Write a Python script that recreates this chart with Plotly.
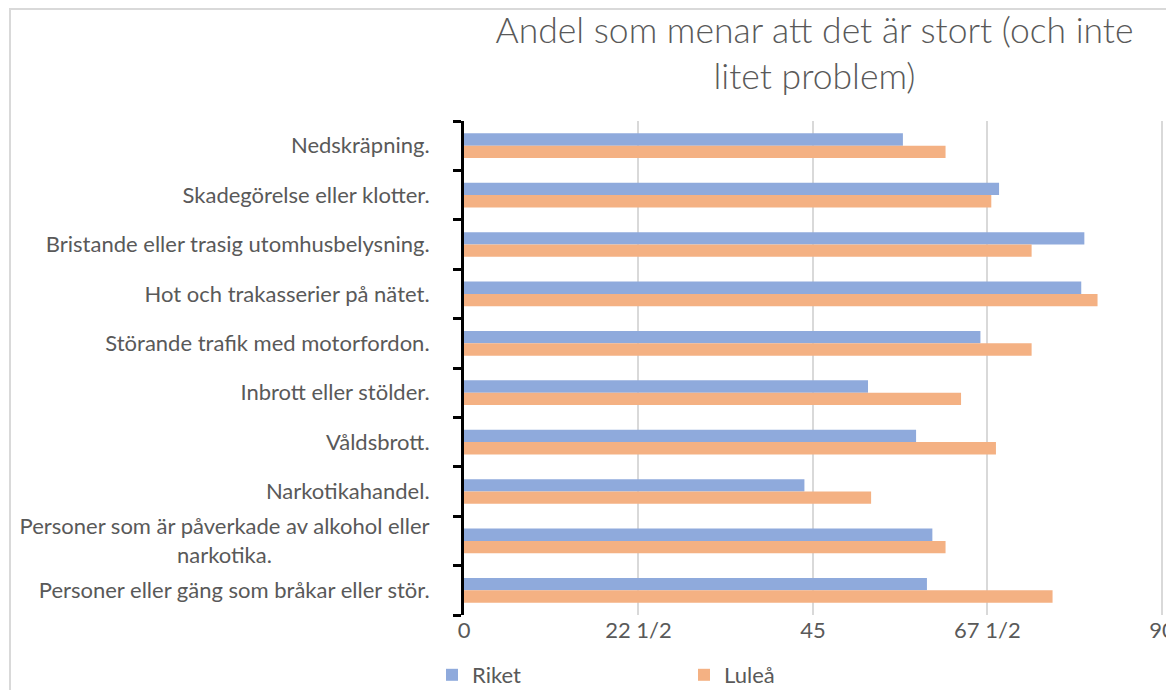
import plotly.graph_objects as go

categories = [
    "Nedskräpning.",
    "Skadegörelse eller klotter.",
    "Bristande eller trasig utomhusbelysning.",
    "Hot och trakasserier på nätet.",
    "Störande trafik med motorfordon.",
    "Inbrott eller stölder.",
    "Våldsbrott.",
    "Narkotikahandel.",
    "Personer som är påverkade av alkohol eller narkotika.",
    "Personer eller gäng som bråkar eller stör.",
]
riket = [56.6, 69.0, 80.0, 79.6, 66.6, 52.1, 58.3, 43.9, 60.4, 59.7]
lulea = [62.1, 68.0, 73.2, 81.7, 73.2, 64.1, 68.6, 52.5, 62.1, 75.9]
x_tickvals = [0, 22.5, 45, 67.5, 90]
x_ticktext = ["0", "22 1/2", "45", "67 1/2", "90"]

NB = "\u00a0"
display = list(categories)
display[8] = "Personer som är påverkade av alkohol eller<br>narkotika." + NB * 28

FONT = "Lato"
GREY = "#595959"

# the page body adds an 8px margin, so the figure is sized 8px smaller
W, H = 1166, 682
L, T = 456, 113
PW = 701
PH = 494
R = W - L - PW
B = H - T - PH

fig = go.Figure()
fig.add_trace(go.Bar(y=categories, x=riket, orientation="h", name="Riket",
                     marker=dict(color="#8FAADC", line=dict(width=0))))
fig.add_trace(go.Bar(y=categories, x=lulea, orientation="h", name="Luleå",
                     marker=dict(color="#F4B183", line=dict(width=0))))

fig.update_layout(
    width=W, height=H,
    margin=dict(l=L, r=R, t=T, b=B, autoexpand=False),
    paper_bgcolor="white", plot_bgcolor="white",
    barmode="group", bargap=0.5, bargroupgap=0,
    font=dict(family=FONT, size=22, color=GREY),
    title=dict(text="Andel som menar att det är stort (och inte<br>litet problem)",
               x=0.5, xref="paper", xanchor="center",
               y=1 - 35 / H, yref="container", yanchor="top",
               font=dict(family=FONT, size=35.5, color=GREY, weight=300)),
    legend=dict(orientation="h", xref="container", yref="container",
                x=424 / W, xanchor="left", y=1 - 646 / H, yanchor="top",
                font=dict(family=FONT, size=22, color=GREY),
                entrywidth=207, entrywidthmode="pixels", traceorder="normal"),
    xaxis=dict(range=[0, 90.4], tickvals=x_tickvals, ticktext=x_ticktext,
               showgrid=True, gridcolor="#d9d9d9", gridwidth=2,
               zeroline=False, showline=False, ticks="", automargin=False,
               ticklabeloverflow="allow",
               tickfont=dict(family=FONT, size=22, color=GREY)),
    yaxis=dict(categoryorder="array", categoryarray=categories,
               autorange="reversed", tickvals=categories, ticktext=display,
               showline=True, linecolor="black", linewidth=3,
               ticks="outside", tickson="boundaries", ticklen=8,
               tickcolor="black", tickwidth=3, ticklabelstandoff=27,
               showgrid=False, zeroline=False, automargin=False,
               tickfont=dict(family=FONT, size=22, color=GREY)),
    shapes=[dict(type="rect", xref="paper", yref="paper",
                 x0=(2 - L) / PW, x1=(1190 - L) / PW,
                 y0=(T + PH - 720) / PH, y1=(T + PH - 1) / PH,
                 line=dict(color="#d9d9d9", width=2), fillcolor="rgba(0,0,0,0)",
                 layer="below")],
)

fig.write_html("out.html")
